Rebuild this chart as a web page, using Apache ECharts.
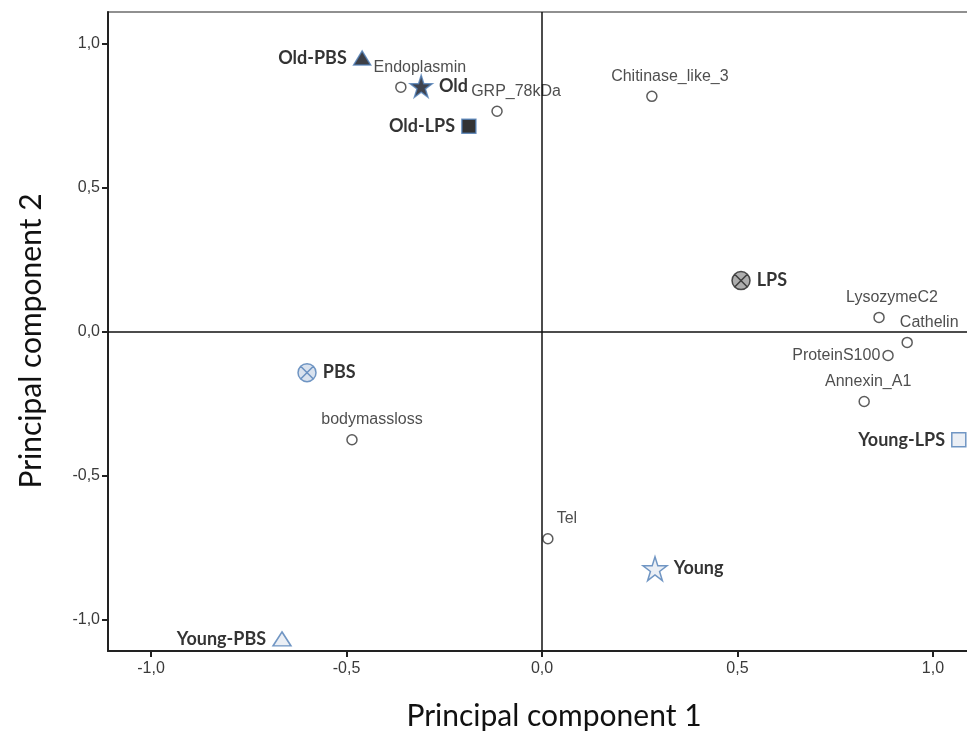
<!DOCTYPE html>
<html>
<head>
<meta charset="utf-8">
<script src="https://cdn.jsdelivr.net/npm/echarts@6/dist/echarts.min.js"></script>
<style>
  html, body { margin: 0; padding: 0; background: #fff; }
  #chart { width: 967px; height: 731px; }
</style>
</head>
<body>
<div id="chart"></div>
<script>
// Loadings of the measured variables on the first two principal components
const varNames = ['Endoplasmin', 'GRP_78kDa', 'Chitinase_like_3', 'LysozymeC2', 'Cathelin',
                  'ProteinS100', 'Annexin_A1', 'bodymassloss', 'Tel'];
const varPC1 = [-0.361, -0.115, 0.281, 0.862, 0.934, 0.885, 0.824, -0.486, 0.015];
const varPC2 = [0.849, 0.765, 0.817, 0.049, -0.038, -0.083, -0.243, -0.376, -0.720];

// Group centroids
const groupNames = ['Old-PBS', 'Old', 'Old-LPS', 'LPS', 'PBS', 'Young-LPS', 'Young', 'Young-PBS'];
const groupPC1 = [-0.460, -0.309, -0.187, 0.509, -0.601, 1.066, 0.289, -0.665];
const groupPC2 = [0.950, 0.852, 0.713, 0.177, -0.143, -0.376, -0.824, -1.068];

// Axis tick values
const tickValues = [-1.0, -0.5, 0.0, 0.5, 1.0];

const STAR = 'path://M10 0 L12.35 7.24 L19.95 7.24 L13.8 11.71 L16.15 18.94 L10 14.47 L3.85 18.94 L6.2 11.71 L0.05 7.24 L7.65 7.24 Z';
const CROSS_CIRCLE = 'path://M0 10 A10 10 0 1 1 20 10 A10 10 0 1 1 0 10 Z M2.93 2.93 L17.07 17.07 M17.07 2.93 L2.93 17.07';

const BLUE_EDGE = '#4f7db5';
const groupStyle = {
  'Old-PBS':   { symbol: 'triangle', size: [17, 14], fill: '#0c0f18', edge: BLUE_EDGE, pos: 'left' },
  'Old':       { symbol: STAR, size: 22, fill: '#0f1422', edge: BLUE_EDGE, pos: 'right' },
  'Old-LPS':   { symbol: 'rect', size: 14, fill: '#000000', edge: BLUE_EDGE, pos: 'left' },
  'LPS':       { symbol: CROSS_CIRCLE, size: 18, fill: '#9a9a9a', edge: '#222222', pos: 'right' },
  'PBS':       { symbol: CROSS_CIRCLE, size: 18, fill: '#cfdbea', edge: BLUE_EDGE, pos: 'right' },
  'Young-LPS': { symbol: 'rect', size: 14, fill: '#e6ebf2', edge: BLUE_EDGE, pos: 'left' },
  'Young':     { symbol: STAR, size: 24, fill: '#e6ebf2', edge: BLUE_EDGE, pos: 'right' },
  'Young-PBS': { symbol: 'triangle', size: [18, 14], fill: '#e6ebf2', edge: BLUE_EDGE, pos: 'left' }
};

// Label placement for the variable markers
const varLabel = {
  'Endoplasmin':      { pos: 'top', off: [19, -1] },
  'GRP_78kDa':        { pos: 'top', off: [19, -1] },
  'Chitinase_like_3': { pos: 'top', off: [18, -1] },
  'LysozymeC2':       { pos: 'top', off: [13, -1] },
  'Cathelin':         { pos: 'top', off: [22, -1] },
  'ProteinS100':      { pos: 'left', off: [3, 0] },
  'Annexin_A1':       { pos: 'top', off: [4, -1] },
  'bodymassloss':     { pos: 'top', off: [20, -1] },
  'Tel':              { pos: 'top', off: [19, -1] }
};

const fmt = v => v.toFixed(1).replace('.', ',');

const varData = varNames.map((n, i) => ({
  name: n,
  value: [varPC1[i], varPC2[i]],
  label: { position: varLabel[n].pos, offset: varLabel[n].off }
}));

const groupData = groupNames.map((n, i) => {
  const s = groupStyle[n];
  return {
    name: n,
    value: [groupPC1[i], groupPC2[i]],
    symbol: s.symbol,
    symbolSize: s.size,
    itemStyle: { color: s.fill, borderColor: s.edge, borderWidth: 1.5 },
    label: { position: s.pos, distance: 6 }
  };
});

const chart = echarts.init(document.getElementById('chart'), null, { renderer: 'canvas' });
chart.setOption({
  animation: false,
  backgroundColor: '#ffffff',
  grid: {
    left: 108, top: 12, right: -9, bottom: 80,
    outerBoundsMode: 'none', containLabel: false,
    show: true, borderColor: '#222', borderWidth: 1.2, backgroundColor: 'transparent'
  },
  xAxis: {
    type: 'value', min: -1.11, max: 1.11,
    splitLine: { show: false },
    axisLine: { onZero: false, lineStyle: { color: '#222', width: 2 } },
    axisTick: { customValues: tickValues, length: 6, lineStyle: { color: '#222', width: 2 } },
    axisLabel: { customValues: tickValues, formatter: fmt, color: '#3a3a3a',
                 fontFamily: 'Liberation Sans, Arial', fontSize: 16, margin: 10 }
  },
  yAxis: {
    type: 'value', min: -1.11, max: 1.11,
    splitLine: { show: false },
    axisLine: { onZero: false, lineStyle: { color: '#222', width: 2 } },
    axisTick: { customValues: tickValues, length: 6, lineStyle: { color: '#222', width: 2 } },
    axisLabel: { customValues: tickValues, formatter: fmt, color: '#3a3a3a',
                 fontFamily: 'Liberation Sans, Arial', fontSize: 16, margin: 8 }
  },
  graphic: [
    { type: 'text', x: 554, y: 716, style: { text: 'Principal component 1',
      font: '30px Lato, sans-serif', fill: '#111', align: 'center', verticalAlign: 'middle' } },
    { type: 'text', x: 31, y: 341, rotation: Math.PI / 2,
      style: { text: 'Principal component 2', font: '30px Lato, sans-serif', fill: '#111',
               align: 'center', verticalAlign: 'middle' } }
  ],
  series: [
    {
      name: 'variables',
      type: 'scatter',
      data: varData,
      symbol: 'circle',
      symbolSize: 10,
      itemStyle: { color: '#ffffff', borderColor: '#333', borderWidth: 1.5 },
      label: {
        show: true, formatter: '{b}', color: '#222',
        fontFamily: 'Liberation Sans, Arial', fontSize: 16
      },
      markLine: {
        silent: true, symbol: 'none', animation: false,
        label: { show: false },
        lineStyle: { color: '#111', width: 1.5, type: 'solid' },
        data: [{ xAxis: 0 }, { yAxis: 0 }]
      },
      z: 3
    },
    {
      name: 'groups',
      type: 'scatter',
      data: groupData,
      label: {
        show: true, formatter: '{b}', color: '#000', fontWeight: 'bold',
        fontFamily: 'Lato, sans-serif', fontSize: 18
      },
      z: 4
    }
  ]
});
</script>
</body>
</html>
